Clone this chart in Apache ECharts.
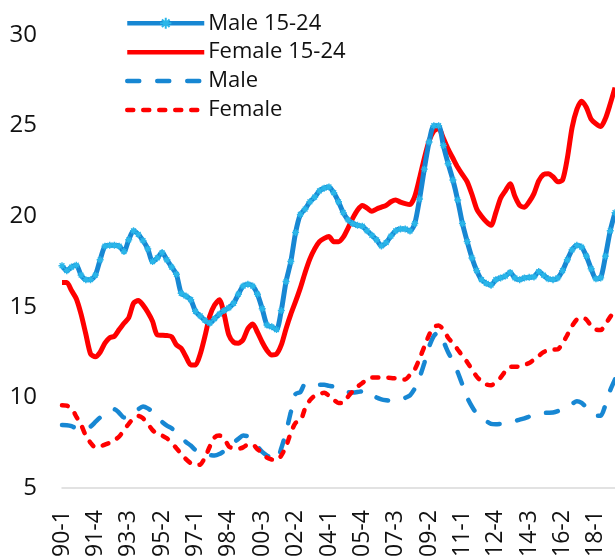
<!DOCTYPE html>
<html>
<head>
<meta charset="utf-8">
<script src="https://cdn.jsdelivr.net/npm/echarts@6/dist/echarts.min.js"></script>
<style>
html,body{margin:0;padding:0;background:#fff;}
#chart{width:615px;height:560px;}
</style>
</head>
<body>
<div id="chart"></div>
<script>
// Quarter categories 90-1 ... 19-1
const startYear = 1990, quarterCount = 117;
const categories = [];
for (let i = 0; i < quarterCount; i++) {
  const y = startYear + Math.floor(i / 4);
  categories.push(String(y % 100).padStart(2, '0') + '-' + (i % 4 + 1));
}
const seriesNames = ['Male 15-24', 'Female 15-24', 'Male', 'Female'];
const yTicks = [5, 10, 15, 20, 25, 30];

const male1524 = [17.27,17.0,17.2,17.3,16.75,16.5,16.5,16.75,17.6,18.35,18.4,18.4,18.35,18.05,18.7,19.2,19.0,18.65,18.2,17.5,
17.7,18.0,17.6,17.2,16.8,15.75,15.6,15.4,14.75,14.5,14.25,14.1,14.35,14.6,14.8,14.95,15.2,15.7,16.15,16.25,
16.15,15.7,14.9,14.0,13.9,13.75,14.8,16.4,17.5,19.1,20.1,20.4,20.8,21.05,21.4,21.55,21.62,21.3,20.8,20.2,
19.8,19.6,19.5,19.45,19.2,18.95,18.7,18.36,18.55,18.9,19.2,19.3,19.3,19.18,19.6,20.95,22.6,24.1,25.0,25.0,
23.9,22.9,22.0,20.9,19.6,18.6,17.7,17.0,16.5,16.3,16.2,16.5,16.6,16.7,16.9,16.6,16.5,16.6,16.63,16.65,
16.95,16.75,16.55,16.5,16.6,17.0,17.6,18.15,18.4,18.3,17.8,17.1,16.55,16.6,17.8,19.2,20.2];

const female1524 = [16.35,16.35,15.9,15.45,14.6,13.5,12.4,12.25,12.5,13.0,13.3,13.38,13.75,14.1,14.4,15.2,15.35,15.1,14.7,14.2,
13.45,13.44,13.42,13.35,12.9,12.72,12.25,11.8,11.8,12.4,13.4,14.5,15.1,15.4,14.6,13.45,13.05,13.0,13.2,13.8,
14.05,13.6,13.05,12.6,12.35,12.4,12.9,13.8,14.6,15.3,16.05,16.9,17.65,18.2,18.6,18.78,18.88,18.6,18.6,18.85,
19.35,19.9,20.35,20.6,20.45,20.27,20.4,20.5,20.6,20.8,20.9,20.78,20.7,20.65,21.1,22.1,23.2,24.15,24.7,24.85,
24.3,23.7,23.2,22.7,22.3,21.9,21.2,20.4,20.0,19.7,19.5,20.2,21.0,21.4,21.8,21.1,20.6,20.5,20.8,21.25,
21.95,22.3,22.35,22.18,21.9,22.0,23.2,24.9,25.9,26.35,26.0,25.35,25.1,24.95,25.4,26.2,27.1];

const maleAll = [8.48,8.47,8.42,8.3,8.25,8.3,8.4,8.65,8.9,9.1,9.25,9.35,9.15,8.9,8.95,9.1,9.35,9.5,9.4,9.2,
8.9,8.65,8.45,8.3,8.05,7.8,7.55,7.35,7.1,6.98,6.88,6.82,6.8,6.88,7.05,7.22,7.5,7.72,7.9,7.85,
7.6,7.3,7.0,6.8,6.65,6.55,7.2,8.1,9.2,10.2,10.3,10.75,10.75,10.72,10.7,10.7,10.65,10.6,10.52,10.4,
10.3,10.27,10.3,10.35,10.38,10.2,10.0,9.9,9.85,9.82,9.8,9.85,9.98,10.12,10.5,11.1,11.9,12.8,13.4,13.6,
13.1,12.5,12.0,11.4,10.7,10.0,9.5,9.1,8.9,8.7,8.55,8.53,8.55,8.58,8.65,8.7,8.78,8.85,8.95,9.05,
9.12,9.15,9.16,9.17,9.25,9.38,9.5,9.65,9.8,9.7,9.45,9.2,9.0,9.0,9.6,10.4,11.0];

const femaleAll = [9.57,9.55,9.4,8.95,8.5,7.9,7.5,7.25,7.3,7.4,7.5,7.65,7.85,8.2,8.55,8.85,8.98,8.85,8.55,8.2,
8.0,7.9,7.75,7.5,7.2,6.9,6.6,6.38,6.28,6.3,6.7,7.3,7.8,7.9,7.75,7.3,7.2,7.17,7.25,7.4,
7.4,7.15,6.95,6.68,6.58,6.53,6.8,7.3,8.05,8.6,8.7,9.4,9.85,10.1,10.2,10.26,10.1,9.88,9.7,9.7,
10.05,10.35,10.6,10.8,11.0,11.11,11.11,11.11,11.1,11.08,11.05,11.0,11.0,11.25,11.55,12.15,12.8,13.45,13.9,13.97,
13.75,13.3,13.0,12.65,12.3,11.95,11.55,11.15,10.9,10.72,10.67,10.85,11.1,11.45,11.68,11.7,11.71,11.8,11.9,12.1,
12.3,12.5,12.62,12.65,12.66,13.0,13.45,13.95,14.3,14.42,14.3,13.95,13.75,13.72,14.05,14.45,14.8];

const FONT = "'Open Sans', sans-serif";
const BLUE = '#1787D3';
const CYAN = '#2AB6E9';
const RED = '#FF0000';
const starPath = 'path://M5,0L5,10M0,5L10,5M1.6,1.6L8.4,8.4M8.4,1.6L1.6,8.4';

const chart = echarts.init(document.getElementById('chart'), null, {renderer: 'canvas'});
chart.setOption({
  animation: false,
  backgroundColor: '#fff',
  grid: {left: 62, right: 0, top: 35, bottom: 67, containLabel: false},
  legend: {
    orient: 'vertical', left: 125, top: 9, padding: 0,
    itemWidth: 77, itemHeight: 14, itemGap: 0.4,
    lineStyle: {width: 4.5},
    textStyle: {fontFamily: FONT, fontSize: 22, color: '#111', lineHeight: 28.5, padding: [0,0,0,-1]},
    data: [
      {name: seriesNames[0]},
      {name: seriesNames[1], itemStyle: {opacity: 0}},
      {name: seriesNames[2], itemStyle: {opacity: 0}},
      {name: seriesNames[3], itemStyle: {opacity: 0}}
    ]
  },
  xAxis: {
    type: 'category', data: categories, boundaryGap: false,
    axisLine: {lineStyle: {color: '#D9D9D9', width: 1.5}},
    axisTick: {show: false},
    axisLabel: {interval: 6, rotate: 90, margin: 22, fontFamily: FONT, fontSize: 23, color: '#111'},
    splitLine: {show: false}
  },
  yAxis: {
    type: 'value', min: yTicks[0], max: yTicks[yTicks.length - 1], interval: 5,
    axisLine: {show: false}, axisTick: {show: false}, splitLine: {show: false},
    axisLabel: {margin: 25, fontFamily: FONT, fontSize: 24, color: '#111'}
  },
  series: [
    {
      name: seriesNames[0], type: 'line', data: male1524, smooth: 0.25,
      symbol: starPath, symbolSize: 7, showSymbol: true, showAllSymbol: true,
      itemStyle: {color: CYAN, borderColor: CYAN, borderWidth: 1.4},
      lineStyle: {color: BLUE, width: 5}, z: 4
    },
    {
      name: seriesNames[1], type: 'line', data: female1524, smooth: 0.25, symbol: 'none',
      itemStyle: {color: RED},
      lineStyle: {color: RED, width: 5}, z: 3
    },
    {
      name: seriesNames[2], type: 'line', data: maleAll, smooth: 0.25, symbol: 'none',
      itemStyle: {color: BLUE},
      lineStyle: {color: BLUE, width: 4.5, type: [12, 18], cap: 'round'}, z: 2
    },
    {
      name: seriesNames[3], type: 'line', data: femaleAll, smooth: 0.25, symbol: 'none',
      itemStyle: {color: RED},
      lineStyle: {color: RED, width: 4.5, type: [6, 10], cap: 'round'}, z: 2
    }
  ]
});
</script>
</body>
</html>
